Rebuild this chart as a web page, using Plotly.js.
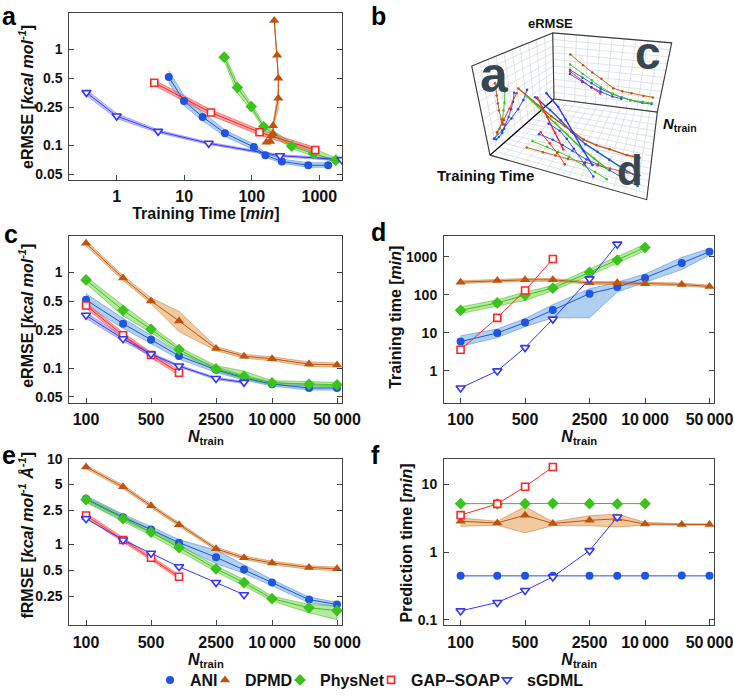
<!DOCTYPE html>
<html><head><meta charset="utf-8">
<script src="https://cdn.plot.ly/plotly-3.0.1.min.js"></script>
<style>html,body{margin:0;padding:0;background:#fff}#chart{width:734px;height:697px}</style>
</head><body><div id="chart"></div>
<script>
// ---------------- DATA ----------------
const N_TRAIN = [100, 250, 500, 1000, 2500, 5000, 10000, 25000, 50000];
const MODEL_NAMES = ['ANI', 'DPMD', 'PhysNet', 'GAP\u2013SOAP', 'sGDML'];

// panel c: energy RMSE [kcal/mol]
const ERMSE_ANI     = [0.515, 0.29, 0.198, 0.134, 0.096, 0.079, 0.068, 0.062, 0.062];
const ERMSE_ANI_LO  = [0.45, 0.26, 0.18, 0.124, 0.09, 0.075, 0.065, 0.059, 0.059];
const ERMSE_ANI_HI  = [0.60, 0.33, 0.22, 0.145, 0.103, 0.084, 0.072, 0.066, 0.066];
const ERMSE_DPMD    = [2.0, 0.87, 0.50, 0.31, 0.16, 0.133, 0.125, 0.11, 0.108];
const ERMSE_DPMD_LO = [1.88, 0.82, 0.47, 0.24, 0.152, 0.127, 0.119, 0.104, 0.103];
const ERMSE_DPMD_HI = [2.13, 0.92, 0.54, 0.39, 0.168, 0.139, 0.131, 0.116, 0.113];
const ERMSE_PHYS    = [0.83, 0.40, 0.254, 0.156, 0.098, 0.082, 0.070, 0.068, 0.067];
const ERMSE_PHYS_LO = [0.76, 0.35, 0.235, 0.147, 0.093, 0.077, 0.067, 0.065, 0.064];
const ERMSE_PHYS_HI = [0.90, 0.45, 0.275, 0.166, 0.106, 0.093, 0.074, 0.072, 0.071];
const ERMSE_GAP     = [0.45, 0.22, 0.137, 0.0895];
const ERMSE_GAP_LO  = [0.42, 0.205, 0.128, 0.084];
const ERMSE_GAP_HI  = [0.48, 0.235, 0.146, 0.095];
const ERMSE_SG      = [0.355, 0.202, 0.14, 0.105, 0.078, 0.071];
const ERMSE_SG_LO   = [0.33, 0.19, 0.135, 0.102, 0.076, 0.069];
const ERMSE_SG_HI   = [0.38, 0.215, 0.145, 0.108, 0.080, 0.073];

// panel d: training time [min]
const TTIME_ANI     = [5.9, 9.9, 18.7, 40, 107, 159, 278, 684, 1350];
const TTIME_ANI_LO  = [4.4, 7.5, 14.5, 24.8, 24.8, 118, 214, 459, 1100];
const TTIME_ANI_HI  = [8.4, 12.6, 23.8, 55, 144, 214, 353, 960, 1650];
const TTIME_DPMD    = [215, 237, 247, 247, 206, 206, 194, 187, 165];
const TTIME_DPMD_LO = [198, 218, 228, 228, 190, 190, 179, 172, 152];
const TTIME_DPMD_HI = [233, 257, 268, 268, 224, 224, 211, 203, 179];
const TTIME_PHYS    = [39, 61, 98, 150, 390, 819, 1750];
const TTIME_PHYS_LO = [32, 51, 71, 128, 320, 684, 1430];
const TTIME_PHYS_HI = [48, 74, 117, 176, 477, 1000, 2140];
const TTIME_GAP     = [3.6, 24.8, 130, 870];
const TTIME_SG      = [0.356, 1.0, 4.1, 23, 262, 2140];

// panel e: force RMSE [kcal/mol/A]
const FRMSE_ANI     = [3.4, 2.07, 1.49, 1.05, 0.71, 0.51, 0.36, 0.228, 0.20];
const FRMSE_ANI_LO  = [3.15, 1.9, 1.37, 0.97, 0.60, 0.46, 0.33, 0.21, 0.188];
const FRMSE_ANI_HI  = [3.7, 2.25, 1.62, 1.14, 0.86, 0.58, 0.39, 0.245, 0.212];
const FRMSE_DPMD    = [8.0, 4.7, 2.82, 1.7, 0.89, 0.70, 0.61, 0.54, 0.52];
const FRMSE_DPMD_LO = [7.6, 4.47, 2.68, 1.62, 0.85, 0.67, 0.58, 0.515, 0.495];
const FRMSE_DPMD_HI = [8.4, 4.94, 2.96, 1.79, 0.93, 0.735, 0.64, 0.565, 0.545];
const FRMSE_PHYS    = [3.33, 2.0, 1.39, 0.92, 0.52, 0.36, 0.234, 0.183, 0.17];
const FRMSE_PHYS_LO = [3.1, 1.85, 1.28, 0.85, 0.48, 0.33, 0.22, 0.16, 0.133];
const FRMSE_PHYS_HI = [3.55, 2.15, 1.5, 0.99, 0.56, 0.39, 0.25, 0.2, 0.194];
const FRMSE_GAP     = [2.18, 1.13, 0.70, 0.42];
const FRMSE_GAP_LO  = [2.05, 1.06, 0.66, 0.395];
const FRMSE_GAP_HI  = [2.32, 1.2, 0.74, 0.445];
const FRMSE_SG      = [2.0, 1.13, 0.79, 0.55, 0.36, 0.26];

// panel f: prediction time [min]
const PTIME_ANI     = [0.445, 0.445, 0.445, 0.445, 0.445, 0.445, 0.445, 0.45, 0.445];
const PTIME_DPMD    = [2.85, 2.7, 3.5, 2.65, 2.95, 3.1, 2.6, 2.55, 2.55];
const PTIME_DPMD_LO = [2.4, 2.5, 1.92, 2.45, 2.45, 2.35, 2.5, 2.5, 2.5];
const PTIME_DPMD_HI = [3.2, 2.85, 4.7, 2.8, 3.45, 3.65, 2.75, 2.62, 2.62];
const PTIME_PHYS    = [5.2, 5.15, 5.2, 5.25, 5.2, 5.15, 5.2];
const PTIME_GAP     = [3.52, 5.15, 9.25, 18.1];
const PTIME_SG      = [0.135, 0.18, 0.27, 0.43, 1.05, 3.3];

// tick labels
const N_TICKS      = [100, 500, 2500, 10000, 50000];
const N_TICKTEXT   = ['100', '500', '2500', '10\u2009000', '50\u2009000'];
const TIME_A_TICKS = [1, 10, 100, 1000];
const ERMSE_TICKS  = [0.05, 0.1, 0.25, 0.5, 1];
const TTIME_TICKS  = [1, 10, 100, 1000];
const FRMSE_TICKS  = [0.25, 0.5, 1, 2.5, 5, 10];
const PTIME_TICKS  = [0.1, 1, 10];

// ---------------- STYLE ----------------
const FONT = 'Liberation Sans, Arial, Helvetica, sans-serif';
const STYLE = [
  {color:'#1f55e0', fill:'rgba(80,150,225,0.45)', edge:'rgba(40,110,210,0.6)', symbol:'circle', size:8, open:false},
  {color:'#c0530f', fill:'rgba(228,150,70,0.5)',  edge:'rgba(200,110,40,0.7)', symbol:'triangle-up', size:9, open:false},
  {color:'#3cc21c', fill:'rgba(110,212,60,0.5)',  edge:'rgba(60,180,30,0.7)',  symbol:'diamond', size:9, open:false},
  {color:'#ff2626', fill:'rgba(255,95,95,0.55)',  edge:'rgba(240,60,60,0.7)',  symbol:'square', size:7, open:true},
  {color:'#3535ff', fill:'rgba(120,120,255,0.45)',edge:'rgba(80,80,240,0.6)',  symbol:'triangle-down', size:8, open:true}
];
// legend: one small legend per model, left positions in px
const LEGEND_X_PX = [150, 205, 280, 371, 487];

const SERIES = [
  {e:ERMSE_ANI, eLo:ERMSE_ANI_LO, eHi:ERMSE_ANI_HI, t:TTIME_ANI, tLo:TTIME_ANI_LO, tHi:TTIME_ANI_HI, f:FRMSE_ANI, fLo:FRMSE_ANI_LO, fHi:FRMSE_ANI_HI, p:PTIME_ANI},
  {e:ERMSE_DPMD, eLo:ERMSE_DPMD_LO, eHi:ERMSE_DPMD_HI, t:TTIME_DPMD, tLo:TTIME_DPMD_LO, tHi:TTIME_DPMD_HI, f:FRMSE_DPMD, fLo:FRMSE_DPMD_LO, fHi:FRMSE_DPMD_HI, p:PTIME_DPMD, pLo:PTIME_DPMD_LO, pHi:PTIME_DPMD_HI},
  {e:ERMSE_PHYS, eLo:ERMSE_PHYS_LO, eHi:ERMSE_PHYS_HI, t:TTIME_PHYS, tLo:TTIME_PHYS_LO, tHi:TTIME_PHYS_HI, f:FRMSE_PHYS, fLo:FRMSE_PHYS_LO, fHi:FRMSE_PHYS_HI, p:PTIME_PHYS},
  {e:ERMSE_GAP, eLo:ERMSE_GAP_LO, eHi:ERMSE_GAP_HI, t:TTIME_GAP, f:FRMSE_GAP, fLo:FRMSE_GAP_LO, fHi:FRMSE_GAP_HI, p:PTIME_GAP},
  {e:ERMSE_SG, eLo:ERMSE_SG_LO, eHi:ERMSE_SG_HI, t:TTIME_SG, f:FRMSE_SG, p:PTIME_SG}
];

// ---------------- TRACE BUILDERS ----------------
const bands = [], lines = [], marks = [];
function addBand(x, lo, hi, xa, ya, st){
  const k = Math.min(x.length, lo.length, hi.length);
  const xs = x.slice(0,k), l = lo.slice(0,k), h = hi.slice(0,k);
  bands.push({type:'scatter', mode:'lines', x:xs.concat(xs.slice().reverse()), y:h.concat(l.slice().reverse()),
    fill:'toself', fillcolor:st.fill, line:{color:st.edge, width:0.7}, xaxis:xa, yaxis:ya, hoverinfo:'skip', showlegend:false});
}
function addSeries(x, y, xa, ya, st, name, legendId){
  const k = Math.min(x.length, y.length);
  const xs = x.slice(0,k), ys = y.slice(0,k);
  lines.push({type:'scatter', mode:'lines', x:xs, y:ys, line:{color:st.color, width:1}, xaxis:xa, yaxis:ya, showlegend:false, hoverinfo:'skip'});
  const tr = {type:'scatter', mode:'markers', x:xs, y:ys, name:name, showlegend:!!legendId, xaxis:xa, yaxis:ya,
    marker:{symbol:st.symbol, size:st.size, color: st.open ? '#ffffff' : st.color,
      line:{color:st.color, width: st.open ? 1.6 : 0}}};
  if (legendId) tr.legend = legendId;
  marks.push(tr);
}

SERIES.forEach((s, i) => {
  const st = STYLE[i], nm = MODEL_NAMES[i];
  const legId = i === 0 ? 'legend' : 'legend' + (i + 1);
  if (s.eLo) addBand(s.t, s.eLo, s.eHi, 'x', 'y', st);
  addSeries(s.t, s.e, 'x', 'y', st, nm, null);
  if (s.eLo) addBand(N_TRAIN, s.eLo, s.eHi, 'x2', 'y2', st);
  addSeries(N_TRAIN, s.e, 'x2', 'y2', st, nm, legId);
  if (s.tLo) addBand(N_TRAIN, s.tLo, s.tHi, 'x3', 'y3', st);
  addSeries(N_TRAIN, s.t, 'x3', 'y3', st, nm, null);
  if (s.fLo) addBand(N_TRAIN, s.fLo, s.fHi, 'x4', 'y4', st);
  addSeries(N_TRAIN, s.f, 'x4', 'y4', st, nm, null);
  if (s.pLo) addBand(N_TRAIN, s.pLo, s.pHi, 'x5', 'y5', st);
  addSeries(N_TRAIN, s.p, 'x5', 'y5', st, nm, null);
});

// ---------------- PANEL b (schematic 3-D box, projected) ----------------
const B_BOX = {
  c000:[554,100],   c100:[490,156.7], c010:[657.3,113.3], c110:[646.7,201.7],
  c001:[552.7,33.3], c101:[471.7,66.7], c011:[671.7,43.3], c111:[644.1,108.4]
};
const B_LOG_RANGE = {time:[-3.1, 4.0], n:[1.48, 4.94], e:[-1.474, 1.06]};
function lerp(a,b,t){ return [a[0]+(b[0]-a[0])*t, a[1]+(b[1]-a[1])*t]; }
function proj(u,v,w){
  const K = B_BOX;
  const b0 = lerp(lerp(K.c000,K.c100,u), lerp(K.c010,K.c110,u), v);
  const b1 = lerp(lerp(K.c001,K.c101,u), lerp(K.c011,K.c111,u), v);
  return lerp(b0,b1,w);
}
function norm(val, r){ return (Math.log10(val) - r[0]) / (r[1] - r[0]); }
const bTraces = [];
function pathTrace(pts, color, width){
  const x = [], y = [];
  pts.forEach(p => { if (p === null){ x.push(null); y.push(null); } else { x.push(p[0]); y.push(p[1]); } });
  bTraces.push({type:'scatter', mode:'lines', x, y, xaxis:'x6', yaxis:'y6', line:{color, width}, hoverinfo:'skip', showlegend:false});
}
(function(){
  const g = [];
  for (let i = 0; i <= 10; i++){ const t = i/10;
    g.push(proj(t,0,0), proj(t,0,1), null, proj(0,0,t), proj(1,0,t), null);
    g.push(proj(0,t,0), proj(0,t,1), null, proj(0,0,t), proj(0,1,t), null);
  }
  for (let i = 0; i <= 14; i++){ const t = i/14;
    g.push(proj(t,0,0), proj(t,1,0), null, proj(0,t,0), proj(1,t,0), null);
  }
  pathTrace(g, '#d3d9de', 0.7);
  pathTrace([proj(0,0,1), proj(1,0,1), proj(1,0,0), null, proj(0,0,0), proj(0,0,1), proj(0,1,1), proj(0,1,0), proj(0,0,0), null,
             proj(1,0,0), proj(1,1,0), proj(0,1,0)], '#3a3a3a', 1.1);
  pathTrace([proj(0,0,0), proj(1,0,0)], '#000', 1.2);
})();
SERIES.forEach((s, i) => {
  const st = STYLE[i];
  const k = Math.min(s.t.length, s.e.length);
  const sets = [[], [], [], []];
  for (let j = 0; j < s.e.length; j++){
    sets[1].push(proj(0, norm(N_TRAIN[j], B_LOG_RANGE.n), norm(s.e[j], B_LOG_RANGE.e)));
  }
  for (let j = 0; j < k; j++){
    const u = norm(s.t[j], B_LOG_RANGE.time), v = norm(N_TRAIN[j], B_LOG_RANGE.n), w = norm(s.e[j], B_LOG_RANGE.e);
    sets[0].push(proj(u, 0, w));
    sets[2].push(proj(u, v, 0));
    sets[3].push(proj(u, v, w));
  }
  for (let j = k; j < s.t.length; j++){
    sets[2].push(proj(norm(s.t[j], B_LOG_RANGE.time), norm(N_TRAIN[j], B_LOG_RANGE.n), 0));
  }
  sets.forEach((pts, si) => {
    bTraces.push({type:'scatter', mode:'lines+markers', x:pts.map(p=>p[0]), y:pts.map(p=>p[1]), xaxis:'x6', yaxis:'y6',
      line:{color:st.color, width: si === 3 ? 1.4 : 0.9}, marker:{size: 2.5, color:st.color}, hoverinfo:'skip', showlegend:false});
  });
});

// ---------------- LAYOUT ----------------
const XTICKFONT = {family:FONT, size:16, weight:'bold', color:'#111'};
const YTICKFONT = {family:FONT, size:14, weight:'bold', color:'#111'};
const TITLEFONT = {family:FONT, size:16, weight:'bold', color:'#111'};
function logAxis(domain, range, anchor, tickvals, ticktext, title, isX){
  const a = {type:'log', domain, range, anchor, tickmode:'array', tickvals, ticks:'inside', ticklen:5, tickwidth:1,
    tickcolor:'#444', showline:true, linecolor:'#444', linewidth:1, mirror: isX ? true : 'ticks', showgrid:false,
    zeroline:false, tickfont: isX ? XTICKFONT : YTICKFONT, fixedrange:true, ticklabelstandoff: isX ? 2 : 3, ticklabeloverflow:'allow'};
  if (title) a.title = {text:title, font:TITLEFONT, standoff:2};
  if (ticktext) a.ticktext = ticktext;
  return a;
}
const XA = [0.0944, 0.4664], XB = [0.6049, 0.9734];
const Y1 = [0.7393, 0.9809], Y2 = [0.4165, 0.6581], Y3 = [0.0937, 0.3353];
const NT = '<i>N</i><sub>train</sub>';
const ER = 'eRMSE [<i>kcal mol<sup>-1</sup></i>]';
function legendBox(i){
  return {orientation:'h', x:LEGEND_X_PX[i]/734, xanchor:'left', y:0.014, yanchor:'middle',
    font:{family:FONT, size:16, weight:'bold', color:'#111'}, itemwidth:30, bgcolor:'rgba(0,0,0,0)', borderwidth:0};
}
const PL = (t, x, y, anchor) => ({text:t, x, y, xref:'paper', yref:'paper', xanchor:'left', yanchor:anchor||'middle', showarrow:false, font:{family:FONT, size:25, weight:'bold', color:'#000'}});
// vertical (y-axis) titles, centre given in px
const YT = (t, px, py) => ({text:t, x:px/734, y:1-py/697, xref:'paper', yref:'paper', xanchor:'center', yanchor:'middle', textangle:-90, showarrow:false, font:TITLEFONT});

const layout = {
  width:734, height:697, margin:{l:0, r:0, t:0, b:0}, paper_bgcolor:'#fff', plot_bgcolor:'rgba(0,0,0,0)',
  font:{family:FONT, size:16, color:'#111'},
  showlegend:true,
  legend: legendBox(0), legend2: legendBox(1), legend3: legendBox(2), legend4: legendBox(3), legend5: legendBox(4),
  xaxis:  logAxis(XA, [-0.702, 3.34], 'y',  TIME_A_TICKS, null, 'Training Time [<i>min</i>]', true),
  yaxis:  logAxis(Y1, [-1.36, 0.378], 'x',  ERMSE_TICKS, null, null, false),
  xaxis2: logAxis(XA, [1.82, 4.756], 'y2', N_TICKS, N_TICKTEXT, NT, true),
  yaxis2: logAxis(Y2, [-1.36, 0.378], 'x2', ERMSE_TICKS, null, null, false),
  xaxis3: logAxis(XB, [1.82, 4.753], 'y3', N_TICKS, N_TICKTEXT, NT, true),
  yaxis3: logAxis(Y2, [-0.833, 3.547], 'x3', TTIME_TICKS, null, null, false),
  xaxis4: logAxis(XA, [1.82, 4.756], 'y4', N_TICKS, N_TICKTEXT, NT, true),
  yaxis4: logAxis(Y3, [-0.942, 1.0], 'x4', FRMSE_TICKS, null, null, false),
  xaxis5: logAxis(XB, [1.82, 4.753], 'y5', N_TICKS, N_TICKTEXT, NT, true),
  yaxis5: logAxis(Y3, [-1.083, 1.381], 'x5', PTIME_TICKS, null, null, false),
  xaxis6: {domain:[440/734, 1], range:[440, 734], anchor:'y6', visible:false, fixedrange:true},
  yaxis6: {domain:[1-210/697, 1], range:[210, 0], anchor:'x6', visible:false, fixedrange:true},
  annotations: [
    PL('a', 0.0, 1.0, 'top'), PL('b', 0.503, 1.0, 'top'),
    PL('c', 0.003, 0.661), PL('d', 0.503, 0.664), PL('e', 0.0, 0.341), PL('f', 0.503, 0.341),
    YT(ER, 26, 98), YT(ER, 26, 319),
    YT('Training time [<i>min</i>]', 396, 321),
    YT('fRMSE [<i>kcal mol<sup>-1</sup> \u00c5<sup>-1</sup></i>]', 26, 541),
    YT('Prediction time [<i>min</i>]', 406, 548),
    {text:'eRMSE', x:550, y:24, xref:'x6', yref:'y6', showarrow:false, font:{family:FONT, size:13, weight:'bold', color:'#111'}},
    {text:'<i>N</i><sub>train</sub>', x:680, y:126, xref:'x6', yref:'y6', showarrow:false, font:{family:FONT, size:15, weight:'bold', color:'#111'}},
    {text:'Training Time', x:485, y:177, xref:'x6', yref:'y6', showarrow:false, font:{family:FONT, size:15, weight:'bold', color:'#111'}},
    {text:'a', x:494, y:76, xref:'x6', yref:'y6', showarrow:false, font:{family:FONT, size:50, weight:'bold', color:'#37464f'}},
    {text:'c', x:648, y:54, xref:'x6', yref:'y6', showarrow:false, font:{family:FONT, size:46, weight:'bold', color:'#37464f'}},
    {text:'d', x:630, y:172, xref:'x6', yref:'y6', showarrow:false, font:{family:FONT, size:42, weight:'bold', color:'#37464f'}}
  ]
};

Plotly.newPlot('chart', bTraces.concat(bands, lines, marks), layout, {staticPlot:true, displayModeBar:false});
</script>
</body></html>
